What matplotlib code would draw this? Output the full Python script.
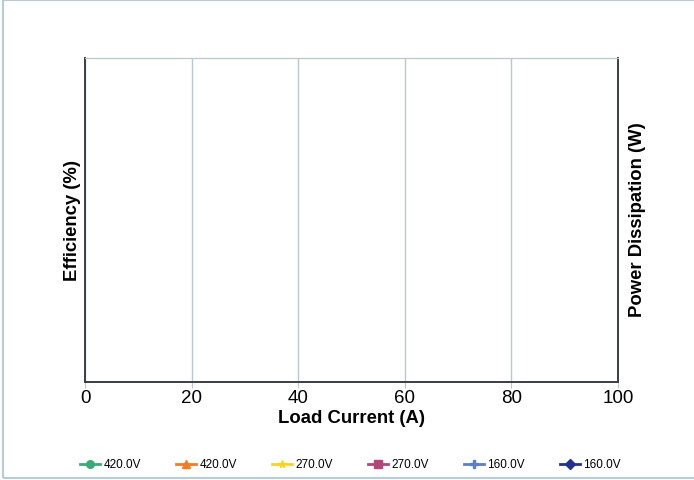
import matplotlib
matplotlib.use("Agg")
import matplotlib.pyplot as plt
from matplotlib.patches import Rectangle

plt.rcParams['font.family'] = ['Liberation Sans', 'DejaVu Sans']

# chart data (the reference plot area is empty, only the series legend remains)
series_labels = ['420.0V', '420.0V', '270.0V', '270.0V', '160.0V', '160.0V']
series_colors = ['#3aaa78', '#f47c26', '#ffd21f', '#b04878', '#5b80c8', '#23328c']
series_markers = ['o', '^', '*', 's', 'P', 'D']
x_ticks = [0, 20, 40, 60, 80, 100]

fig = plt.figure(figsize=(6.94, 4.8), dpi=100)
fig.patches.append(Rectangle((0.005, 0.004), 1.2, 0.995, transform=fig.transFigure,
                             fill=False, edgecolor='#b7cdd6', linewidth=1.5))

ax = fig.add_axes([0.1225, 0.204, 0.768, 0.675])
ax2 = ax.twinx()

for lab, col, mk in zip(series_labels, series_colors, series_markers):
    ax.plot([], [], color=col, marker=mk, markersize=5.5, linewidth=2, label=lab)

ax.set_xlim(x_ticks[0], x_ticks[-1])
ax.set_xticks(x_ticks)
ax.set_ylim(0, 1)
ax.set_yticks([])
ax2.set_yticks([])
ax.grid(axis='x', color='#b9c8cf', linewidth=1)
ax.tick_params(axis='x', labelsize=13.5, length=4, color='#b9c8cf', pad=2)

for a in (ax, ax2):
    for side in ('left', 'right', 'bottom'):
        a.spines[side].set_color('#3c4246')
        a.spines[side].set_linewidth(1.3)
    a.spines['top'].set_color('#b9c8cf')

ax.set_xlabel('Load Current (A)', fontsize=13.3, fontweight='bold', labelpad=2)
ax.set_ylabel('Efficiency (%)', fontsize=13.3, fontweight='bold', labelpad=3)
ax2.set_ylabel('Power Dissipation (W)', fontsize=13.3, fontweight='bold', labelpad=8)

handles, labels = ax.get_legend_handles_labels()
fig.legend(handles, labels, loc='center', bbox_to_anchor=(0.505, 0.031), ncol=6,
           frameon=False, fontsize=8.5, handlelength=1.7, handletextpad=0.25,
           columnspacing=3.0, borderaxespad=0)

fig.savefig('out.png', dpi=100)
